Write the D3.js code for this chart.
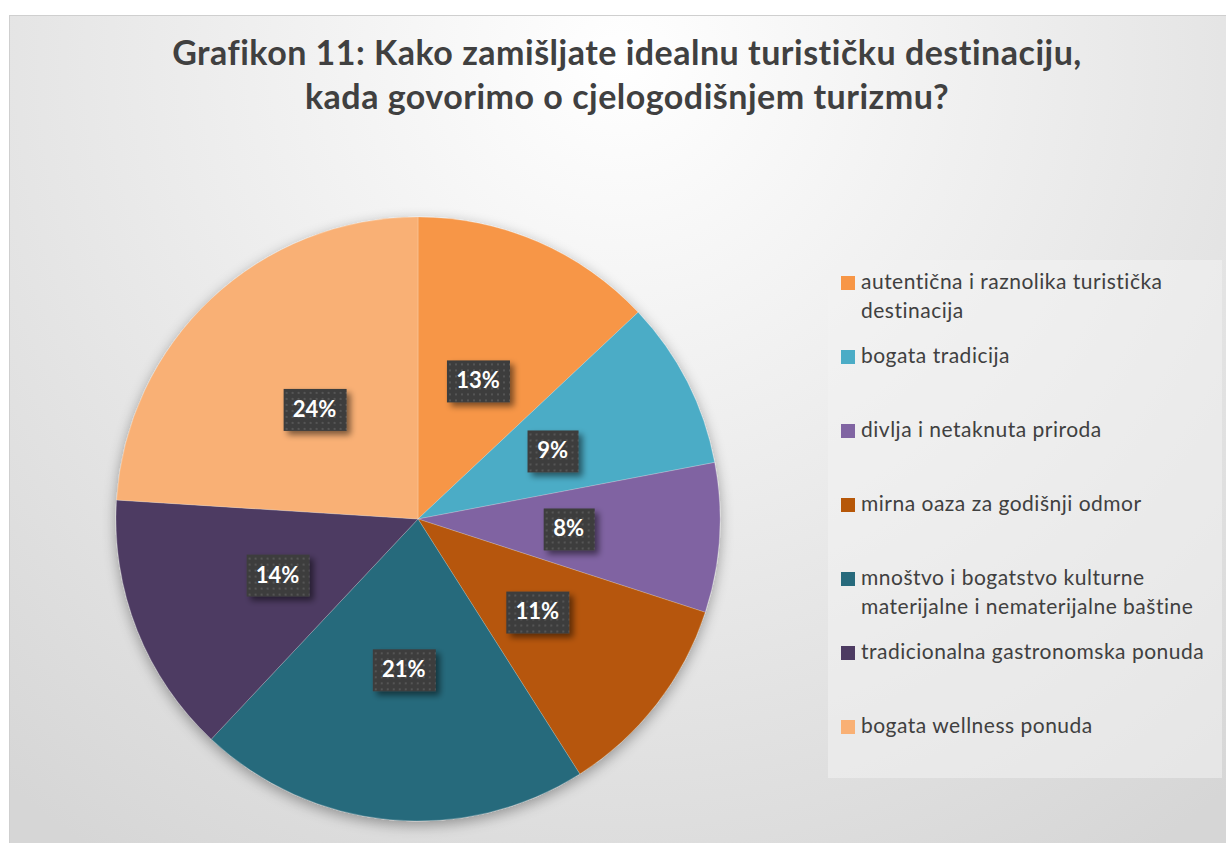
<!DOCTYPE html>
<html>
<head>
<meta charset="utf-8">
<script src="https://cdn.jsdelivr.net/npm/d3@7.9.0/dist/d3.min.js"></script>
<style>
  html, body { margin: 0; padding: 0; background: #fff; }
  svg { display: block; }
</style>
</head>
<body>
<svg id="chart" width="1226" height="843"></svg>
<script>
// ============= DATA ==================
const titleLines = [
  "Grafikon 11: Kako zamišljate idealnu turističku destinaciju,",
  "kada govorimo o cjelogodišnjem turizmu?"
];
const categories = [
  "autentična i raznolika turistička destinacija",
  "bogata tradicija",
  "divlja i netaknuta priroda",
  "mirna oaza za godišnji odmor",
  "mnoštvo i bogatstvo kulturne materijalne i nematerijalne baštine",
  "tradicionalna gastronomska ponuda",
  "bogata wellness ponuda"
];
// legend lines as wrapped in the original
const legendLines = [
  ["autentična i raznolika turistička", "destinacija"],
  ["bogata tradicija"],
  ["divlja i netaknuta priroda"],
  ["mirna oaza za godišnji odmor"],
  ["mnoštvo i bogatstvo kulturne", "materijalne i nematerijalne baštine"],
  ["tradicionalna gastronomska ponuda"],
  ["bogata wellness ponuda"]
];
const values = [13, 9, 8, 11, 21, 14, 24];
const colors = ["#F79646", "#4BACC6", "#8064A2", "#B65708", "#276A7C", "#4D3B62", "#F9B074"];

// ============= SETUP ==================
const svg = d3.select("#chart");
const W = 1226, H = 843;
const font = "Lato, 'Open Sans', sans-serif";

const defs = svg.append("defs");

const bg = defs.append("radialGradient").attr("id", "bgGrad")
  .attr("gradientUnits", "userSpaceOnUse")
  .attr("cx", 620).attr("cy", 60).attr("r", 950);
bg.append("stop").attr("offset", "0%").attr("stop-color", "#ffffff");
bg.append("stop").attr("offset", "100%").attr("stop-color", "#d6d6d6");

const shadow = defs.append("filter").attr("id", "pieShadow")
  .attr("x", "-20%").attr("y", "-20%").attr("width", "140%").attr("height", "140%");
shadow.append("feGaussianBlur").attr("in", "SourceAlpha").attr("stdDeviation", 7);
shadow.append("feOffset").attr("dx", 0).attr("dy", 4).attr("result", "blur");
shadow.append("feComponentTransfer").append("feFuncA").attr("type", "linear").attr("slope", 0.35);
const sm = shadow.append("feMerge");
sm.append("feMergeNode");
sm.append("feMergeNode").attr("in", "SourceGraphic");

const boxShadow = defs.append("filter").attr("id", "boxShadow")
  .attr("x", "-30%").attr("y", "-30%").attr("width", "170%").attr("height", "170%");
boxShadow.append("feGaussianBlur").attr("in", "SourceAlpha").attr("stdDeviation", 3);
boxShadow.append("feOffset").attr("dx", 4).attr("dy", 4);
boxShadow.append("feComponentTransfer").append("feFuncA").attr("type", "linear").attr("slope", 0.5);
const bm = boxShadow.append("feMerge");
bm.append("feMergeNode");
bm.append("feMergeNode").attr("in", "SourceGraphic");

const dots = defs.append("pattern").attr("id", "dots")
  .attr("patternUnits", "userSpaceOnUse").attr("width", 6).attr("height", 6);
dots.append("rect").attr("width", 6).attr("height", 6).attr("fill", "#3d3d3d");
dots.append("rect").attr("x", 1).attr("y", 1).attr("width", 2).attr("height", 2).attr("fill", "#555");

// chart area
svg.append("rect").attr("width", W).attr("height", H).attr("fill", "#fff");
svg.append("rect")
  .attr("x", 9.5).attr("y", 15.5).attr("width", W).attr("height", H)
  .attr("fill", "url(#bgGrad)").attr("stroke", "#cfcfcf");

// ============= TITLE ==================
svg.append("g").selectAll("text")
  .data(titleLines)
  .join("text")
  .attr("x", 627)
  .attr("y", (d, i) => 65 + i * 44)
  .attr("text-anchor", "middle")
  .attr("font-family", font)
  .attr("font-weight", "bold")
  .attr("font-size", 34)
  .attr("letter-spacing", 0.5)
  .attr("fill", "#404040")
  .text(d => d);

// ============= PIE ==================
const cx = 418, cy = 519, r = 302;
const pie = d3.pie().sort(null).value(d => d);
const arc = d3.arc().innerRadius(0).outerRadius(r);
const arcs = pie(values);

const g = svg.append("g").attr("transform", `translate(${cx},${cy})`);
g.append("g").attr("filter", "url(#pieShadow)")
  .selectAll("path")
  .data(arcs)
  .join("path")
  .attr("d", arc)
  .attr("fill", (d, i) => colors[i])
  .attr("stroke", "rgba(255,255,255,0.35)")
  .attr("stroke-width", 0.6);

// data labels
const lbl = g.selectAll(".lbl")
  .data(arcs)
  .join("g")
  .attr("class", "lbl")
  .attr("transform", d => `translate(${arc.centroid(d)})`);

lbl.append("rect")
  .attr("x", d => (d.data >= 10 ? -31 : -25))
  .attr("y", -20)
  .attr("width", d => (d.data >= 10 ? 63 : 51))
  .attr("height", 42)
  .attr("fill", "url(#dots)")
  .attr("filter", "url(#boxShadow)");

lbl.append("text")
  .attr("text-anchor", "middle")
  .attr("dy", "0.36em")
  .attr("font-family", font)
  .attr("font-weight", "bold")
  .attr("font-size", 22)
  .attr("fill", "#fff")
  .text(d => d.data + "%");

// ============= LEGEND ==================
svg.append("rect")
  .attr("x", 828).attr("y", 260).attr("width", 394).attr("height", 518)
  .attr("fill", "#f2f2f2").attr("fill-opacity", 0.55);

const legend = svg.append("g").selectAll("g")
  .data(categories)
  .join("g")
  .attr("transform", (d, i) => `translate(841,${276 + i * 74})`);

legend.append("rect")
  .attr("width", 14).attr("height", 14)
  .attr("fill", (d, i) => colors[i]);

legend.append("text")
  .attr("font-family", font)
  .attr("font-size", 21)
  .attr("letter-spacing", 0.5)
  .attr("fill", "#404040")
  .selectAll("tspan")
  .data((d, i) => legendLines[i])
  .join("tspan")
  .attr("x", 20)
  .attr("y", (d, j) => 13 + j * 29)
  .text(d => d);
</script>
</body>
</html>
